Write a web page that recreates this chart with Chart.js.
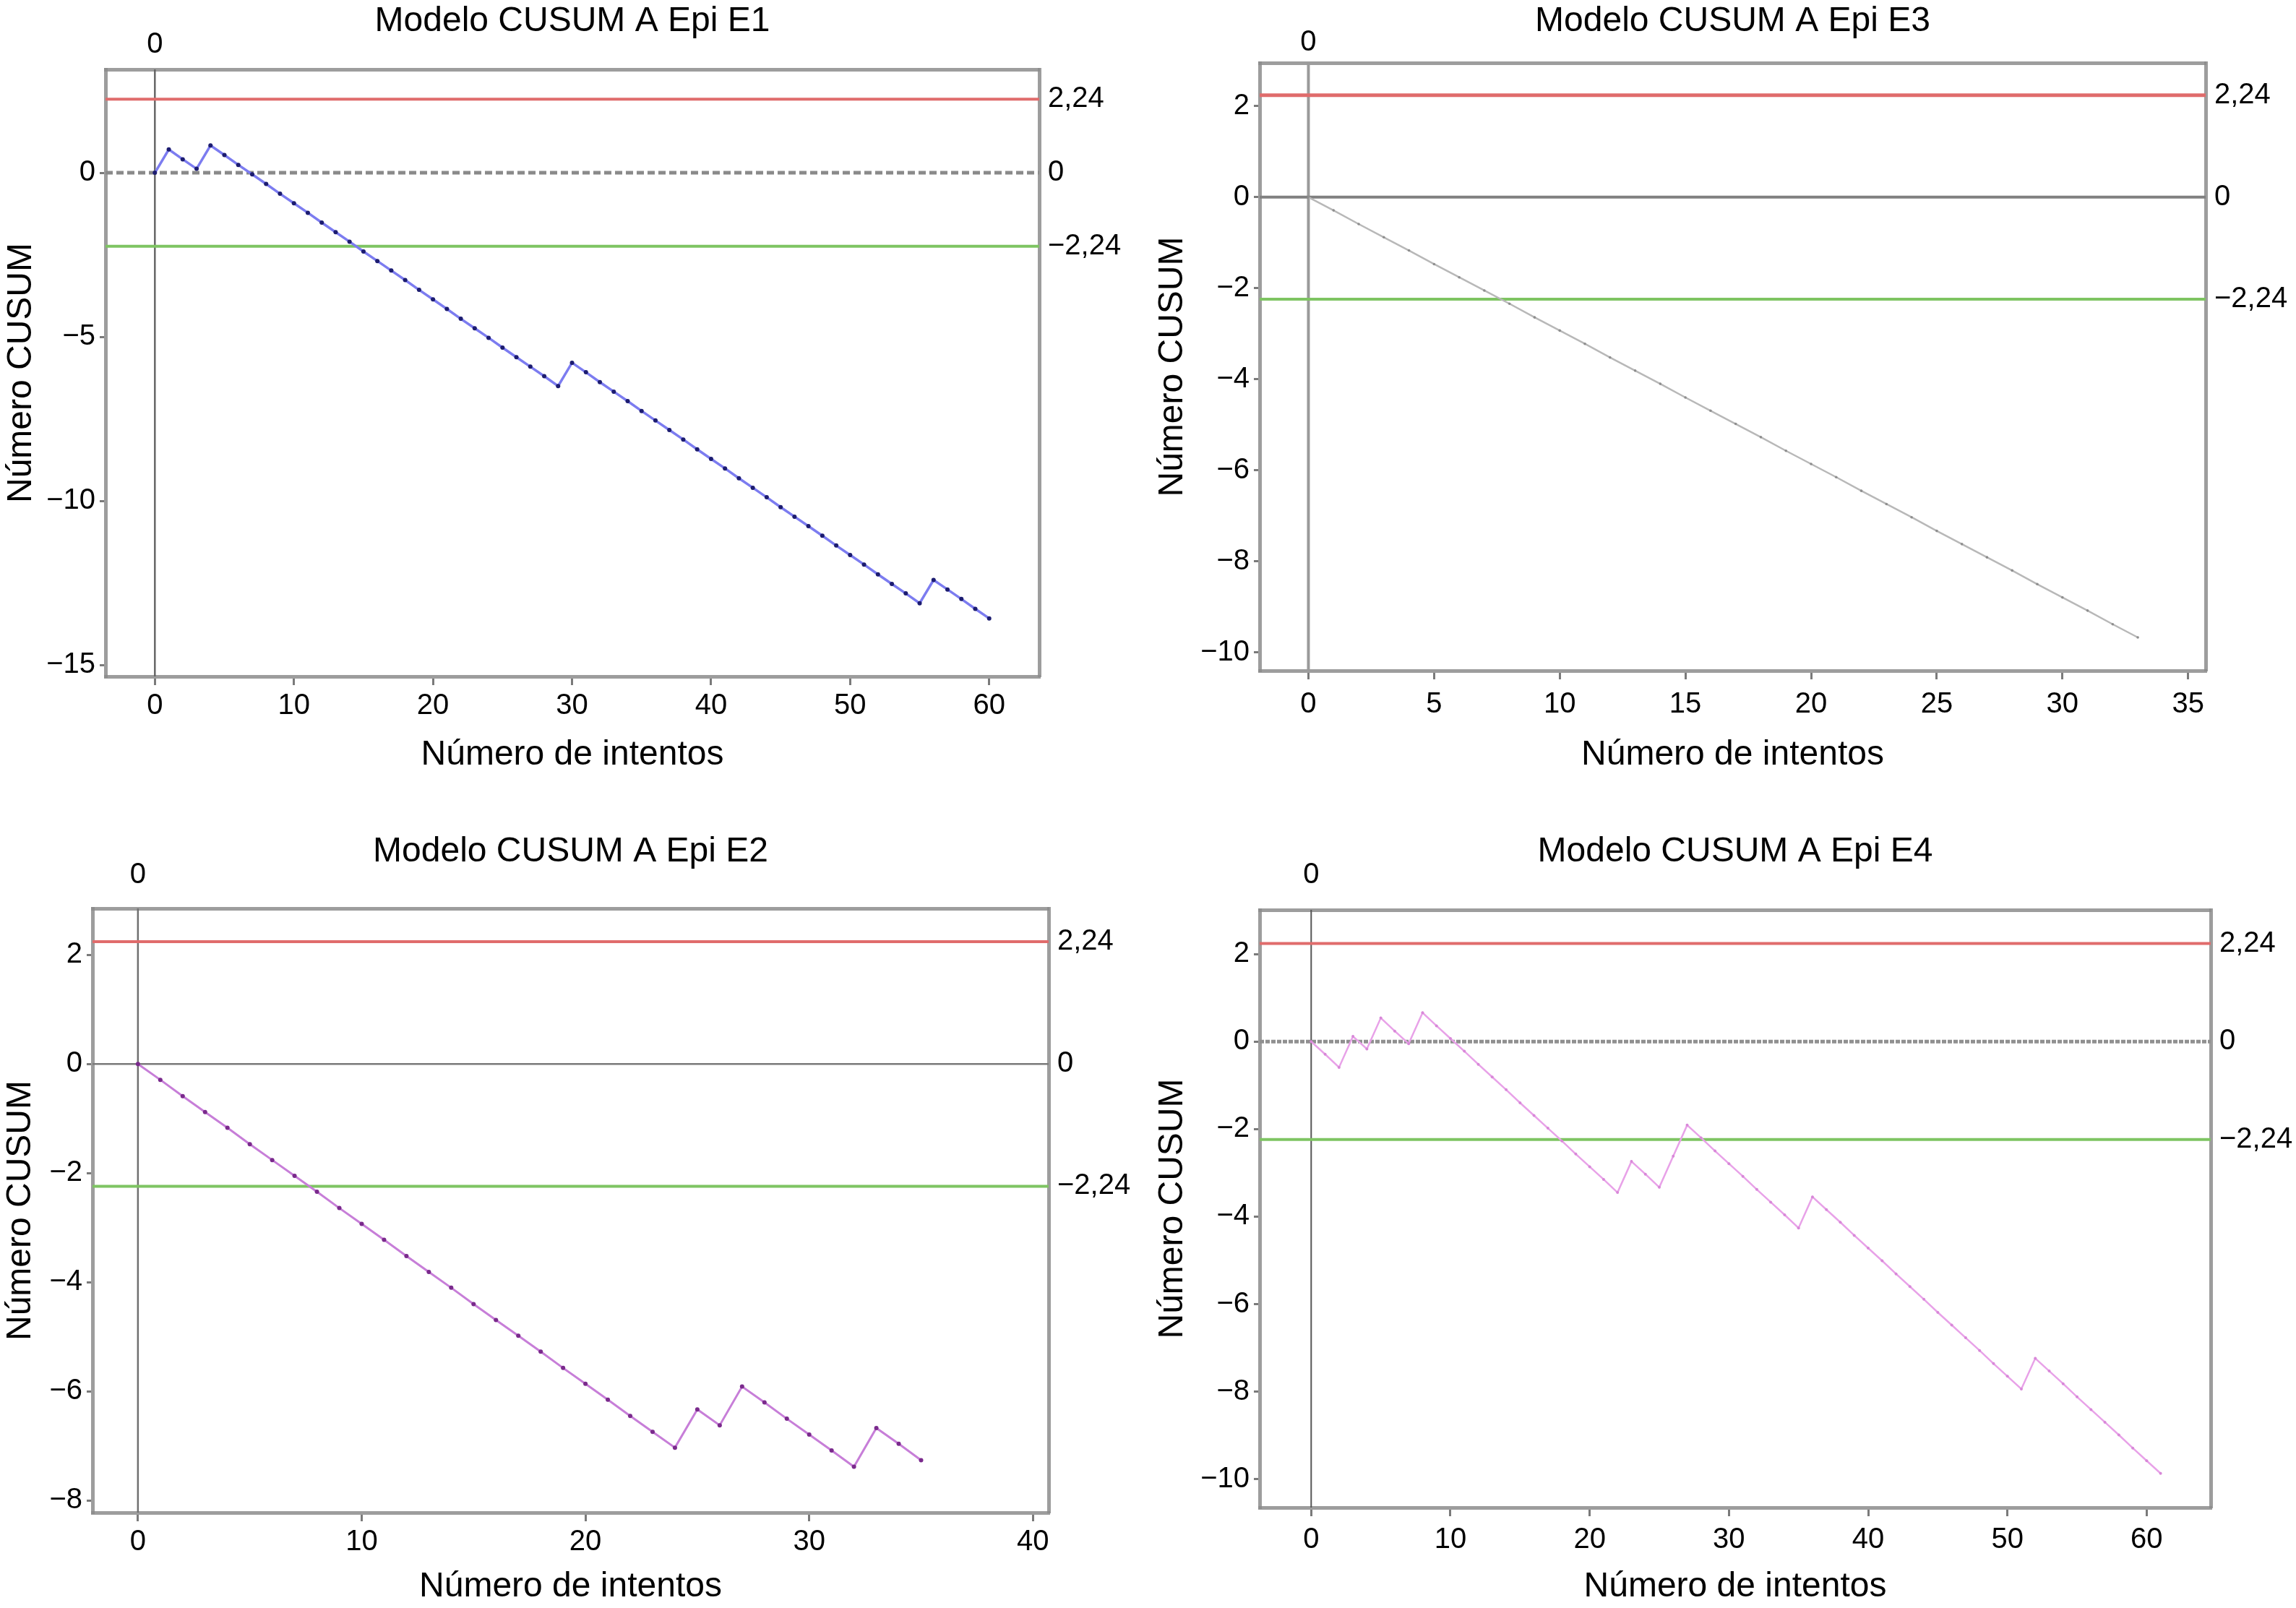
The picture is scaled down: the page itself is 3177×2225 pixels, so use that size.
<!DOCTYPE html>
<html>
<head>
<meta charset="utf-8">
<title>Modelo CUSUM A Epi</title>
<script src="https://cdn.jsdelivr.net/npm/chart.js@4.4.1/dist/chart.umd.min.js"></script>
<style>
  html, body { margin: 0; padding: 0; background: #fff; }
  body { width: 3177px; height: 2225px; position: relative; overflow: hidden; }
  canvas { position: absolute; }
</style>
</head>
<body>
<canvas id="e1"></canvas>
<canvas id="e3"></canvas>
<canvas id="e2"></canvas>
<canvas id="e4"></canvas>
<script>
// CUSUM value after each attempt (index = attempt number, starts at 0)
const cusumE1 = [
  0, 0.71, 0.41, 0.12, 0.83, 0.54, 0.24, -0.05, -0.34, -0.64,
  -0.93, -1.22, -1.52, -1.81, -2.10, -2.40, -2.69, -2.98, -3.27, -3.57,
  -3.86, -4.15, -4.45, -4.74, -5.03, -5.33, -5.62, -5.91, -6.20, -6.50,
  -5.79, -6.08, -6.38, -6.67, -6.96, -7.26, -7.55, -7.84, -8.13, -8.43,
  -8.72, -9.01, -9.31, -9.60, -9.89, -10.19, -10.48, -10.77, -11.06, -11.36,
  -11.65, -11.94, -12.24, -12.53, -12.82, -13.12, -12.41, -12.70, -12.99, -13.29,
  -13.58
];
const cusumE3 = [
  0, -0.29, -0.59, -0.88, -1.17, -1.47, -1.76, -2.05, -2.34, -2.64,
  -2.93, -3.22, -3.52, -3.81, -4.10, -4.40, -4.69, -4.98, -5.27, -5.57,
  -5.86, -6.15, -6.45, -6.74, -7.03, -7.33, -7.62, -7.91, -8.20, -8.50,
  -8.79, -9.08, -9.38, -9.67
];
const cusumE2 = [
  0, -0.29, -0.59, -0.88, -1.17, -1.47, -1.76, -2.05, -2.34, -2.64,
  -2.93, -3.22, -3.52, -3.81, -4.10, -4.40, -4.69, -4.98, -5.27, -5.57,
  -5.86, -6.15, -6.45, -6.74, -7.03, -6.33, -6.62, -5.91, -6.20, -6.50,
  -6.79, -7.08, -7.38, -6.67, -6.96, -7.26
];
const cusumE4 = [
  0, -0.29, -0.59, 0.12, -0.17, 0.54, 0.24, -0.05, 0.66, 0.36,
  0.07, -0.22, -0.52, -0.81, -1.10, -1.40, -1.69, -1.98, -2.27, -2.57,
  -2.86, -3.15, -3.45, -2.74, -3.03, -3.33, -2.62, -1.91, -2.20, -2.50,
  -2.79, -3.08, -3.38, -3.67, -3.96, -4.26, -3.55, -3.84, -4.13, -4.43,
  -4.72, -5.01, -5.31, -5.60, -5.89, -6.19, -6.48, -6.77, -7.06, -7.36,
  -7.65, -7.94, -7.24, -7.53, -7.82, -8.12, -8.41, -8.70, -8.99, -9.29,
  -9.58, -9.87
];

// tick labels
const xTicksE1 = [0, 10, 20, 30, 40, 50, 60];
const yTicksE1 = [-15, -10, -5, 0];
const xTicksE3 = [0, 5, 10, 15, 20, 25, 30, 35];
const yTicksE3 = [-10, -8, -6, -4, -2, 0, 2];
const xTicksE2 = [0, 10, 20, 30, 40];
const yTicksE2 = [-8, -6, -4, -2, 0, 2];
const xTicksE4 = [0, 10, 20, 30, 40, 50, 60];
const yTicksE4 = [-10, -8, -6, -4, -2, 0, 2];

// control limits (right-hand labels) and the top marker
const limitValues = [2.24, 0, -2.24];
const limitLabels = ['2,24', '0', '\u22122,24'];
const topTicks = [0];

const xTitle = 'Número de intentos';
const yTitle = 'Número CUSUM';

Chart.defaults.font.family = "'Liberation Sans', Arial, Helvetica, sans-serif";
Chart.defaults.color = '#000';

const panels = [
  {
    id: 'e1', title: 'Modelo CUSUM A Epi E1', values: cusumE1, xTicks: xTicksE1, yTicks: yTicksE1,
    box: { left: 0, top: 0, width: 1588, height: 1110 },
    frame: { left: 146, right: 1438, top: 96, bottom: 936 },
    xRange: [-3.55, 63.6], yRange: [-15.35, 3.15],
    pad: { title: 1, top0: 10, xTicks: 5, xTitle: 36, yTitle: 1 },
    line: '#7c7cf0', lineWidth: 3.5, point: '#1c1c70', pointRadius: 3,
    zero: { color: '#8a8a8a', width: 5, dash: [10, 5] },
    vert: { color: '#666', width: 2.5, dash: [] },
    red: 4, green: 4
  },
  {
    id: 'e3', title: 'Modelo CUSUM A Epi E3', values: cusumE3, xTicks: xTicksE3, yTicks: yTicksE3,
    box: { left: 1588, top: 0, width: 1589, height: 1110 },
    frame: { left: 1743, right: 3052, top: 87, bottom: 928 },
    xRange: [-1.94, 35.7], yRange: [-10.4, 2.95],
    pad: { title: 1, top0: 4, xTicks: 11, xTitle: 36, yTitle: 6 },
    line: '#b8b8b8', lineWidth: 2.5, point: '#8e8e8e', pointRadius: 1.8,
    zero: { color: '#808080', width: 4, dash: [] },
    vert: { color: '#9a9a9a', width: 4, dash: [] },
    red: 5, green: 4
  },
  {
    id: 'e2', title: 'Modelo CUSUM A Epi E2', values: cusumE2, xTicks: xTicksE2, yTicks: yTicksE2,
    box: { left: 0, top: 1110, width: 1588, height: 1115 },
    frame: { left: 128, right: 1451, top: 1257, bottom: 2093 },
    xRange: [-2.03, 40.7], yRange: [-8.22, 2.85],
    pad: { title: 40, top0: 22, xTicks: 5, xTitle: 0, yTitle: 0 },
    line: '#c77ed8', lineWidth: 3, point: '#7a2a8c', pointRadius: 3,
    zero: { color: '#7a7a7a', width: 2.5, dash: [] },
    vert: { color: '#707070', width: 2.5, dash: [] },
    red: 4, green: 4
  },
  {
    id: 'e4', title: 'Modelo CUSUM A Epi E4', values: cusumE4, xTicks: xTicksE4, yTicks: yTicksE4,
    box: { left: 1588, top: 1110, width: 1589, height: 1115 },
    frame: { left: 1743, right: 3059, top: 1259, bottom: 2086 },
    xRange: [-3.7, 64.6], yRange: [-10.65, 3.01],
    pad: { title: 40, top0: 24, xTicks: 9, xTitle: 0, yTitle: 6 },
    line: '#e8a2e8', lineWidth: 2.5, point: '#d888d8', pointRadius: 2,
    zero: { color: '#909090', width: 5, dash: [6, 2] },
    vert: { color: '#555', width: 2, dash: [] },
    red: 4, green: 4
  }
];

const minus = v => (v < 0 ? '\u2212' + Math.abs(v) : String(v));
const frameBorder = { display: true, color: 'rgba(140,140,140,0.85)', width: 5, dash: [4, 1.5] };

function buildChart(p) {
  const canvas = document.getElementById(p.id);
  canvas.width = p.box.width;
  canvas.height = p.box.height;
  canvas.style.left = p.box.left + 'px';
  canvas.style.top = p.box.top + 'px';
  canvas.style.width = p.box.width + 'px';
  canvas.style.height = p.box.height + 'px';

  const [xMin, xMax] = p.xRange;
  const [yMin, yMax] = p.yRange;
  const hLine = (y) => [{ x: xMin, y: y }, { x: xMax, y: y }];

  const tickFont = { size: 40 };
  const titleFont = { size: 48 };

  return new Chart(canvas.getContext('2d'), {
    type: 'line',
    data: {
      datasets: [
        {
          label: 'CUSUM',
          data: p.values.map((v, i) => ({ x: i, y: v })),
          borderColor: p.line,
          borderWidth: p.lineWidth,
          pointRadius: p.pointRadius,
          pointBackgroundColor: p.point,
          pointBorderWidth: 0,
          tension: 0
        },
        {
          label: 'upper',
          data: hLine(limitValues[0]),
          borderColor: '#e06c6c',
          borderWidth: p.red,
          pointRadius: 0
        },
        {
          label: 'zero',
          data: hLine(limitValues[1]),
          borderColor: p.zero.color,
          borderWidth: p.zero.width,
          borderDash: p.zero.dash,
          pointRadius: 0
        },
        {
          label: 'lower',
          data: hLine(limitValues[2]),
          borderColor: '#7ec462',
          borderWidth: p.green,
          pointRadius: 0
        },
        {
          label: 'origin',
          data: [{ x: 0, y: yMin }, { x: 0, y: yMax }],
          borderColor: p.vert.color,
          borderWidth: p.vert.width,
          borderDash: p.vert.dash,
          pointRadius: 0
        }
      ]
    },
    options: {
      responsive: false,
      devicePixelRatio: 1,
      animation: false,
      layout: { padding: 0 },
      plugins: { legend: { display: false }, tooltip: { enabled: false } },
      scales: {
        x: {
          type: 'linear', position: 'bottom', min: xMin, max: xMax,
          afterBuildTicks: s => { s.ticks = p.xTicks.map(v => ({ value: v })); },
          afterFit: s => { s.height = p.box.top + p.box.height - p.frame.bottom; },
          ticks: { autoSkip: false, maxRotation: 0, font: tickFont, padding: p.pad.xTicks, callback: v => minus(v) },
          grid: { drawOnChartArea: false, drawTicks: true, tickLength: 12, color: '#7a7a7a', lineWidth: 3 },
          border: frameBorder,
          title: { display: true, text: xTitle, font: titleFont, padding: { top: 0, bottom: p.pad.xTitle } }
        },
        x2: {
          type: 'linear', position: 'top', min: xMin, max: xMax,
          afterBuildTicks: s => { s.ticks = topTicks.map(v => ({ value: v })); },
          afterFit: s => { s.height = p.frame.top - p.box.top; },
          ticks: { autoSkip: false, maxRotation: 0, font: tickFont, padding: p.pad.top0, callback: v => String(v) },
          grid: { display: false, drawTicks: false },
          border: frameBorder,
          title: { display: true, text: p.title, font: titleFont, padding: { top: p.pad.title, bottom: 0 } }
        },
        y: {
          type: 'linear', position: 'left', min: yMin, max: yMax,
          afterBuildTicks: s => { s.ticks = p.yTicks.map(v => ({ value: v })); },
          afterFit: s => { s.width = p.frame.left - p.box.left; },
          ticks: { autoSkip: false, font: tickFont, padding: 6, callback: v => minus(v) },
          grid: { drawOnChartArea: false, drawTicks: true, tickLength: 8, color: '#7a7a7a', lineWidth: 3 },
          border: frameBorder,
          title: { display: true, text: yTitle, font: titleFont, padding: { top: p.pad.yTitle, bottom: 0 } }
        },
        y2: {
          type: 'linear', position: 'right', min: yMin, max: yMax,
          afterBuildTicks: s => { s.ticks = limitValues.map(v => ({ value: v })); },
          afterFit: s => { s.width = p.box.left + p.box.width - p.frame.right; },
          ticks: { autoSkip: false, font: tickFont, padding: 12, callback: (v, i) => limitLabels[i] },
          grid: { display: false, drawTicks: false },
          border: frameBorder
        }
      }
    }
  });
}

panels.forEach(buildChart);
</script>
</body>
</html>
